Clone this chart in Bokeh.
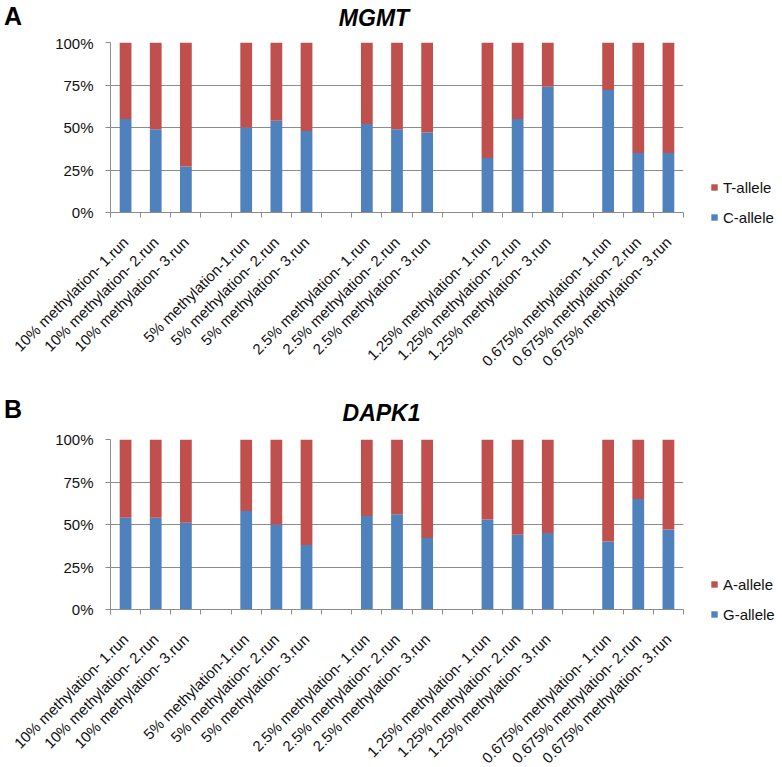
import math
from bokeh.plotting import figure
from bokeh.models import (FixedTicker, Legend, LegendItem, ColumnDataSource, Range1d, Div)
from bokeh.layouts import column
from bokeh.embed import file_html
from bokeh.resources import INLINE

# ---------------- data ----------------
run_labels = [
    "10% methylation- 1.run", "10% methylation- 2.run", "10% methylation- 3.run",
    "5% methylation-1.run", "5% methylation- 2.run", "5% methylation- 3.run",
    "2.5% methylation- 1.run", "2.5% methylation- 2.run", "2.5% methylation- 3.run",
    "1.25% methylation- 1.run", "1.25% methylation- 2.run", "1.25% methylation- 3.run",
    "0.675% methylation- 1.run", "0.675% methylation- 2.run", "0.675% methylation- 3.run",
]
mgmt_c_allele = [55, 49, 27, 50, 54, 48, 52, 49, 47, 32, 55, 74, 72, 35, 35]
dapk1_g_allele = [54, 54, 51, 58, 50, 38, 55, 56, 42, 53, 44, 45, 40, 65, 47]
y_ticks = [0, 25, 50, 75, 100]
y_tick_labels = ["0%", "25%", "50%", "75%", "100%"]

BLUE = "#4F81BD"
RED = "#C0504D"
GRID = "#8c8c8c"
FONT = "Liberation Sans"
TXT = "#111111"
W = 766


def header(letter, gene, height, letter_top, gene_top, gene_center):
    html = (
        f'<div style="position:relative;width:{W}px;height:{height}px;">'
        f'<span style="position:absolute;left:4px;top:{letter_top}px;'
        f'font-family:\'Liberation Sans\';font-weight:bold;font-size:25px;line-height:1;color:#000;">{letter}</span>'
        f'<span style="position:absolute;left:0px;width:{2 * gene_center}px;text-align:center;top:{gene_top}px;'
        f'font-family:\'Liberation Sans\';font-weight:bold;font-style:italic;font-size:23px;line-height:1;color:#000;">{gene}</span>'
        f'</div>'
    )
    return Div(text=html, width=W, height=height, margin=0)


def make_chart(lower_vals, lower_name, upper_name, top_border, bottom_border):
    slots = [i + i // 3 for i in range(len(run_labels))]
    n_slots = slots[-1] + 1
    upper_vals = [100 - v for v in lower_vals]
    src = ColumnDataSource(dict(x=slots, lower=lower_vals, upper=upper_vals))

    p = figure(frame_width=573, frame_height=170,
               x_range=Range1d(-0.5, n_slots - 0.5), y_range=Range1d(0, 100),
               output_backend="svg", toolbar_location=None,
               min_border_left=110, min_border_right=10,
               min_border_top=top_border, min_border_bottom=bottom_border)
    p.outline_line_color = None
    p.background_fill_color = "white"

    rs = p.vbar_stack(["lower", "upper"], x="x", width=0.39, color=[BLUE, RED],
                      source=src, line_color=None)

    # y axis
    p.yaxis.ticker = FixedTicker(ticks=y_ticks)
    p.yaxis.major_label_overrides = {t: l for t, l in zip(y_ticks, y_tick_labels)}
    p.yaxis.axis_line_color = GRID
    p.yaxis.major_tick_line_color = GRID
    p.yaxis.major_tick_out = 5
    p.yaxis.major_tick_in = 0
    p.yaxis.minor_tick_line_color = None
    p.yaxis.major_label_standoff = 12
    p.yaxis.major_label_text_font = FONT
    p.yaxis.major_label_text_font_size = "15px"
    p.yaxis.major_label_text_color = TXT

    # x axis
    boundaries = [b - 0.5 for b in range(n_slots + 1)]
    p.xaxis.ticker = FixedTicker(ticks=slots, minor_ticks=boundaries)
    p.xaxis.major_label_overrides = {s: l for s, l in zip(slots, run_labels)}
    p.xaxis.axis_line_color = GRID
    p.xaxis.major_tick_line_color = None
    p.xaxis.major_tick_out = 0
    p.xaxis.major_tick_in = 0
    p.xaxis.minor_tick_line_color = GRID
    p.xaxis.minor_tick_out = 5
    p.xaxis.minor_tick_in = 0
    p.xaxis.major_label_orientation = math.pi / 4
    p.xaxis.major_label_standoff = 22
    p.xaxis.major_label_text_font = FONT
    p.xaxis.major_label_text_font_size = "15px"
    p.xaxis.major_label_text_color = TXT

    p.xgrid.visible = False
    p.ygrid.ticker = FixedTicker(ticks=y_ticks[1:])
    p.ygrid.grid_line_color = GRID

    legend = Legend(items=[LegendItem(label=upper_name, renderers=[rs[1]]),
                           LegendItem(label=lower_name, renderers=[rs[0]])],
                    location=(27, -15), glyph_width=8, glyph_height=8,
                    label_height=20, spacing=10, padding=0, margin=0,
                    label_standoff=5, border_line_color=None,
                    background_fill_alpha=0,
                    label_text_font=FONT, label_text_font_size="15px",
                    label_text_color=TXT)
    p.add_layout(legend, "right")
    return p


hA = header("A", "MGMT", 34, 4, 6.5, 374)
pA = make_chart(mgmt_c_allele, "C-allele", "T-allele", top_border=8, bottom_border=168)
hB = header("B", "DAPK1", 46, 17, 21.5, 381.5)
pB = make_chart(dapk1_g_allele, "G-allele", "A-allele", top_border=13, bottom_border=155)

layout = column(hA, pA, hB, pB, spacing=0)
open("out.html", "w").write(file_html(layout, INLINE))
